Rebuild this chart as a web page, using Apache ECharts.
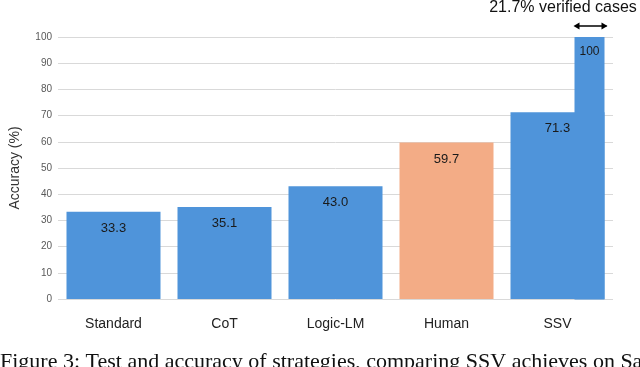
<!DOCTYPE html>
<html><head><meta charset="utf-8">
<script src="https://cdn.jsdelivr.net/npm/echarts@6/dist/echarts.min.js"></script>
<style>html,body{margin:0;padding:0;background:#fff}#c{width:640px;height:367px}</style>
</head><body><div id="c"></div>
<script>
var categories = ['Standard', 'CoT', 'Logic-LM', 'Human', 'SSV'];
var accuracy = [33.3, 35.1, 43.0, 59.7, 71.3];
var verifiedAccuracy = [[4, 100]];
var verifiedLabel = '21.7% verified cases';
var yTicks = {min: 0, max: 100, interval: 10};
var caption = 'Figure 3: Test and accuracy of strategies, comparing SSV achieves on SaTA';

var BLUE = '#4F94DA', SALMON = '#F3AC86';
var BAR_W = 94, EXT_W = 30;
var chart = echarts.init(document.getElementById('c'));
chart.setOption({
  animation: false,
  grid: {left: 55, right: 27, top: 37, bottom: 68},
  xAxis: {
    type: 'category', data: categories,
    axisLine: {show: false}, axisTick: {show: false},
    axisLabel: {fontSize: 14, color: '#222', margin: 18, fontFamily: 'Liberation Sans'}
  },
  yAxis: {
    type: 'value', min: yTicks.min, max: yTicks.max, interval: yTicks.interval,
    name: 'Accuracy (%)', nameLocation: 'middle', nameGap: 36,
    nameTextStyle: {fontSize: 14, color: '#333', fontFamily: 'Liberation Sans'},
    axisLabel: {fontSize: 10, color: '#595959', margin: 6, fontFamily: 'Liberation Sans'},
    splitLine: {lineStyle: {color: '#d9d9d9', width: 1}}
  },
  series: [{
    type: 'bar', barWidth: BAR_W,
    data: accuracy.map(function (v, i) {
      return {value: v, itemStyle: {color: categories[i] === 'Human' ? SALMON : BLUE}};
    }),
    label: {show: true, position: 'insideTop', distance: 10, fontSize: 13, color: '#1a1a1a',
      fontFamily: 'Liberation Sans', formatter: function (p) { return p.value.toFixed(1); }}
  }, {
    type: 'custom', data: verifiedAccuracy,
    renderItem: function (params, api) {
      var top = api.coord([api.value(0), api.value(1)]);
      var base = api.coord([api.value(0), 0]);
      var x1 = top[0] + BAR_W / 2, x0 = x1 - EXT_W;
      var ay = top[1] - 11;
      return {type: 'group', children: [
        {type: 'rect', shape: {x: x0, y: top[1], width: EXT_W, height: base[1] - top[1] + 0.5},
          style: {fill: BLUE}},
        {type: 'text', style: {text: String(api.value(1)), x: (x0 + x1) / 2, y: top[1] + 9,
          align: 'center', verticalAlign: 'top', fontSize: 12, fill: '#1a1a1a', fontFamily: 'Liberation Sans'}},
        {type: 'line', shape: {x1: x0 + 1, y1: ay, x2: x1 + 2, y2: ay}, style: {stroke: '#000', lineWidth: 1.5}},
        {type: 'polygon', shape: {points: [[x0 - 1, ay], [x0 + 5, ay - 3.5], [x0 + 5, ay + 3.5]]}, style: {fill: '#000'}},
        {type: 'polygon', shape: {points: [[x1 + 3, ay], [x1 - 3, ay - 3.5], [x1 - 3, ay + 3.5]]}, style: {fill: '#000'}},
        {type: 'text', style: {text: verifiedLabel, x: 563, y: 8, align: 'center',
          verticalAlign: 'middle', fontSize: 16, fill: '#111', fontFamily: 'Liberation Sans'}}
      ]};
    }
  }],
  graphic: [{type: 'text', left: 0, top: 351,
    style: {text: caption, fontSize: 22, fill: '#111', fontFamily: 'Liberation Serif'}}]
});
</script></body></html>
